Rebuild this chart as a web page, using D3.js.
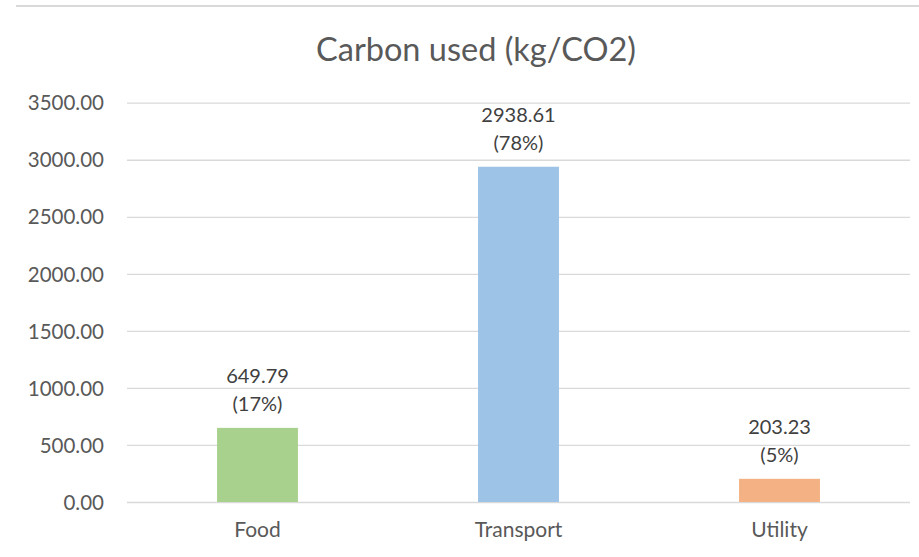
<!DOCTYPE html>
<html>
<head>
<meta charset="utf-8">
<script src="https://cdn.jsdelivr.net/npm/d3@7"></script>
<style>
  html, body { margin: 0; padding: 0; background: #ffffff; }
  svg { display: block; }
</style>
</head>
<body>
<svg id="chart" width="919" height="557"></svg>
<script>
const categories = ["Food", "Transport", "Utility"];
const values = [649.79, 2938.61, 203.23];
const percents = ["17%", "78%", "5%"];
const colors = ["#a9d18e", "#9dc3e6", "#f4b183"];
const yTicks = [0, 500, 1000, 1500, 2000, 2500, 3000, 3500];
const title = "Carbon used (kg/CO2)";

const svg = d3.select("#chart");
const W = 919, H = 557;
const plot = { left: 127, right: 910, top: 102.7, bottom: 502 };
const textColor = "#595959";
const font = "Lato, 'Open Sans', sans-serif";

// top border line
svg.append("line")
  .attr("x1", 16).attr("x2", W).attr("y1", 6).attr("y2", 6)
  .attr("stroke", "#d9d9d9").attr("stroke-width", 2);

const x = d3.scaleBand().domain(categories).range([plot.left, plot.right]).padding(0);
const y = d3.scaleLinear().domain([0, 3500]).range([plot.bottom, plot.top]);

// title
svg.append("text")
  .attr("x", 476).attr("y", 61)
  .attr("text-anchor", "middle")
  .attr("font-family", font).attr("font-size", 32.5)
  .attr("fill", textColor)
  .text(title);

// gridlines
const yAxis = d3.axisLeft(y).tickValues(yTicks).tickSize(-(plot.right - plot.left)).tickPadding(23)
  .tickFormat(d3.format(".2f"));
const gy = svg.append("g").attr("transform", `translate(${plot.left},0)`).call(yAxis);
gy.select(".domain").remove();
gy.selectAll(".tick line").attr("stroke", "#d9d9d9").attr("stroke-width", 1.3);
gy.selectAll(".tick text")
  .attr("font-family", font).attr("font-size", 20.5).attr("fill", textColor)
  .attr("dy", "0.35em");

// bars
const barW = x.bandwidth() * 0.31;
svg.append("g").selectAll("rect").data(values).join("rect")
  .attr("x", (d, i) => x(categories[i]) + (x.bandwidth() - barW) / 2)
  .attr("y", d => y(d))
  .attr("width", barW)
  .attr("height", d => y(0) - y(d))
  .attr("fill", (d, i) => colors[i]);

// value labels
const lbl = svg.append("g").selectAll("text").data(values).join("text")
  .attr("text-anchor", "middle")
  .attr("font-family", font).attr("font-size", 20).attr("fill", "#404040");
lbl.append("tspan")
  .attr("x", (d, i) => x(categories[i]) + x.bandwidth() / 2)
  .attr("y", d => y(d) - 45)
  .text(d => d3.format(".2f")(d));
lbl.append("tspan")
  .attr("x", (d, i) => x(categories[i]) + x.bandwidth() / 2)
  .attr("y", d => y(d) - 17)
  .text((d, i) => `(${percents[i]})`);

// x axis labels
const xAxis = d3.axisBottom(x).tickSize(0).tickPadding(0);
const gx = svg.append("g").attr("transform", `translate(0,${plot.bottom})`).call(xAxis);
gx.select(".domain").remove();
gx.selectAll(".tick text")
  .attr("font-family", font).attr("font-size", 21).attr("fill", textColor)
  .attr("dy", 0).attr("y", 34.5);
</script>
</body>
</html>
